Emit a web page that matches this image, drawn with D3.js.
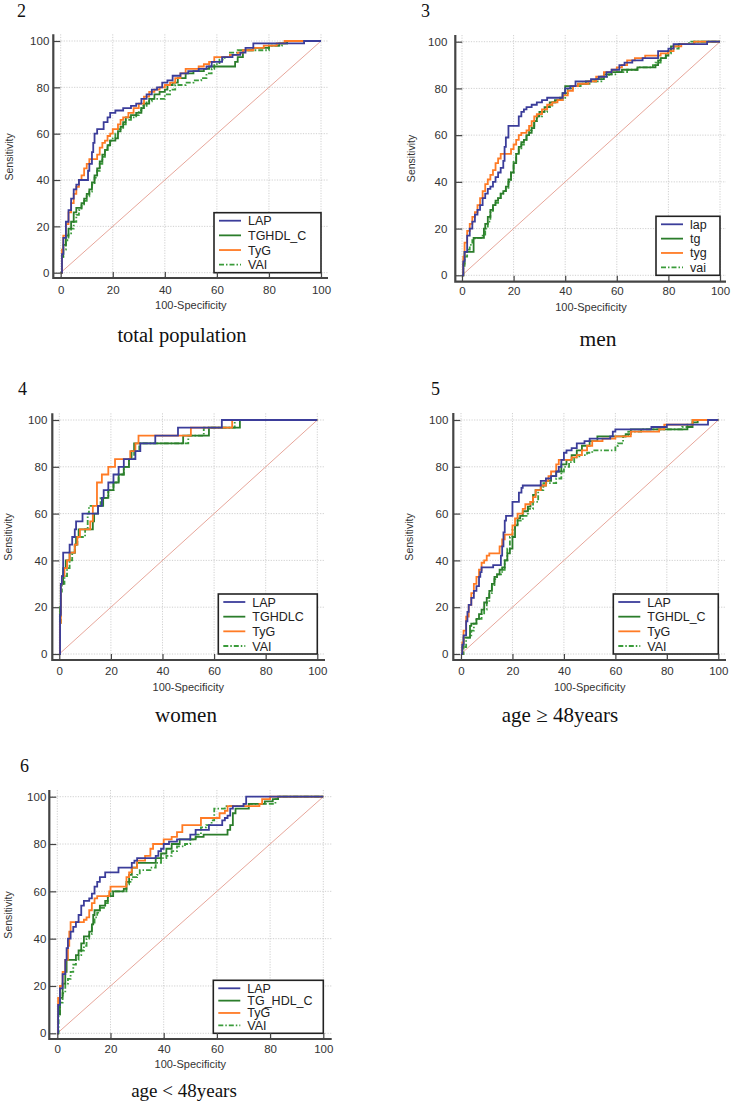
<!DOCTYPE html>
<html><head><meta charset="utf-8">
<script src="https://cdn.jsdelivr.net/npm/d3@7"></script>
<style>body{margin:0;background:#fff} svg{display:block}</style>
</head><body>
<svg id="c" width="733" height="1105"></svg>
<script>
// ---------- DATA (100-Specificity, Sensitivity) ----------
const panelNumbers = ["2","3","4","5","6"];
const panelTitles = ["total population","men","women","age \u2265 48years","age < 48years"];
const tickValues = [0,20,40,60,80,100];
const minorTickValues = d3.range(0,101,5);

const names1 = ["LAP","TGHDL_C","TyG","VAI"];
const names2 = ["lap","tg","tyg","vai"];
const names3 = ["LAP","TGHDLC","TyG","VAI"];
const names4 = ["LAP","TGHDL_C","TyG","VAI"];
const names5 = ["LAP","TG_HDL_C","TyG","VAI"];

// total population
const totLAP = [[0,0],[0.5,8],[1,15],[2,22],[3,27],[4,32],[5,36],[6,38],[7,40],[10,40],[10.5,44],[11,47],[12,52],[12.5,56],[13,60],[14,62],[16,62],[16.5,65],[18,67],[19,69],[21,70],[24,71],[27,72],[29,73],[31,75],[33,77],[35,79],[37,80],[39,82],[41,83],[43,85],[46,86],[49,87],[53,88],[56,89],[58,91],[62,93],[66,94],[69,95],[71,97],[74,99],[93,99],[93.5,100],[100,100]];
const totTGHDL = [[0,0],[0.5,7],[1,12],[2,16],[3,19],[4,22],[5,26],[6,28],[8,30],[9,32],[10,34],[11,36],[12,39],[13,42],[14,45],[15,48],[16,51],[17,53],[18,55],[19,57],[21,58],[22,61],[23,63],[24,65],[25,67],[27,68],[29,69],[31,71],[32,73],[34,75],[36,77],[38,78],[40,79],[41,81],[43,82],[45,84],[48,86],[51,87],[55,88],[57,89],[66,89],[67,91],[68,93],[70,96],[74,97],[80,98],[84,99],[87,100],[100,100]];
const totTyG = [[0,0],[0.5,10],[1,16],[2,21],[3,26],[4,30],[5,34],[6,37],[7,40],[8,42],[9,45],[10,47],[11,49],[13,49],[14,51],[15,54],[16,56],[17,57],[18,59],[19,60],[20,62],[22,64],[23,66],[24,67],[26,69],[28,71],[30,73],[32,76],[34,78],[36,79],[38,80],[40,81],[42,82],[44,84],[46,86],[48,88],[51,88],[53,89],[55,90],[57,91],[59,93],[63,93],[65,94],[68,95],[70,96],[74,97],[78,98],[83,99],[86,100],[100,100]];
const totVAI = [[0,0],[0.5,6],[1,10],[2,14],[3,17],[4,19],[5,22],[6,25],[7,27],[8,29],[9,31],[10,33],[11,35],[12,38],[13,41],[14,44],[15,47],[16,50],[17,53],[18,55],[19,57],[20,58],[21,60],[22,62],[24,64],[25,66],[27,67],[29,68],[30,70],[31,72],[33,74],[35,75],[38,75],[40,77],[42,79],[44,81],[48,82],[51,83],[54,84],[56,86],[58,88],[59,90],[61,92],[63,93],[65,95],[68,96],[78,96],[80,98],[85,99],[87,100],[100,100]];

// men
const menLAP = [[0,0],[0.5,6],[1,10],[2,17],[3,20],[4,23],[5,26],[6,28],[7,30],[8,33],[9,35],[10,37],[11,38],[12,40],[13,42],[14,44],[15,46],[16,49],[16.5,55],[17,59],[18,64],[21,64],[22,68],[23,70],[24,71],[25,72],[27,73],[29,74],[31,75],[33,76],[38,76],[39,78],[40,80],[42,81],[44,83],[48,83],[50,84],[53,85],[56,87],[58,88],[61,90],[63,91],[66,92],[70,93],[75,93],[76,96],[80,97],[82,99],[94,99],[95,100],[100,100]];
const menTG = [[0,0],[0.5,5],[1,10],[4,10],[4.5,16],[8,16],[8.5,20],[9,22],[10,25],[11,28],[12,30],[13,32],[14,33],[15,35],[16,36],[17,38],[18,41],[19,44],[20,48],[21,52],[22,55],[23,57],[24,58],[25,60],[26,61],[27,63],[28,66],[29,68],[30,70],[32,72],[34,74],[36,75],[38,76],[39,78],[40,81],[45,82],[48,83],[52,84],[55,86],[58,87],[62,88],[68,89],[75,90],[76,92],[77,93],[79,94],[80,96],[81,98],[84,99],[90,100],[100,100]];
const menTyG = [[0,0],[0.5,8],[1,14],[2,19],[3,22],[4,25],[5,27],[6,30],[7,33],[8,36],[9,39],[10,41],[11,43],[12,45],[13,48],[14,50],[15,52],[18,52],[19,54],[20,56],[21,58],[22,60],[23,61],[25,62],[26,64],[27,66],[28,68],[29,69],[31,71],[33,73],[35,74],[37,75],[39,77],[41,79],[43,81],[45,82],[49,83],[52,85],[55,87],[58,88],[60,89],[62,90],[64,92],[67,93],[71,94],[77,95],[80,96],[82,98],[85,99],[90,100],[100,100]];
const menVAI = [[0,0],[0.5,4],[1,8],[2,11],[3,13],[4,15],[5,16],[8,17],[9,20],[10,23],[11,27],[12,30],[13,31],[14,33],[15,35],[16,36],[17,37],[18,40],[19,44],[20,49],[21,52],[22,54],[23,56],[24,58],[25,60],[26,62],[27,64],[28,66],[29,68],[31,70],[33,72],[35,74],[37,75],[39,76],[40,78],[41,80],[43,81],[46,82],[50,83],[54,85],[57,86],[60,87],[64,88],[68,89],[74,90],[75,91],[77,93],[79,95],[81,97],[84,99],[88,100],[100,100]];

// women
const womLAP = [[0,0],[0.3,16.7],[0.6,30],[1,33.3],[1.5,43.3],[4,46.7],[5,50],[6,53.3],[6.5,56.7],[9,60],[15,63.3],[16.5,66.7],[17.2,70],[19,73.3],[21,76.7],[23,80],[25,83.3],[29.5,86.7],[31.4,90],[37.2,93.3],[46,96.7],[63,100],[100,100]];
const womTGHDLC = [[0,0],[0.3,20],[0.6,30],[1.5,36.7],[2.5,40],[4,43.3],[6,46.7],[6.5,50],[7.5,53.3],[13,56.7],[13.5,60],[15,63.3],[17,66.7],[19,70],[21,73.3],[23,76.7],[25,80],[27,83.3],[28,86.7],[29,90],[48,93.3],[58,96.7],[70,100],[100,100]];
const womTyG = [[0,0],[0.3,13.3],[0.6,30],[1,33.3],[2,36.7],[3,40],[4,43.3],[6,46.7],[7,50],[8,53.3],[12,56.7],[13,63.3],[14.6,73.3],[16.5,76.7],[19,80],[21.6,83.3],[27.5,86.7],[29.5,90],[30.7,93.3],[51,96.7],[67,100],[100,100]];
const womVAI = [[0,0],[0.3,13.3],[0.6,26.7],[1,30],[2,33.3],[3,36.7],[4,40],[5,43.3],[6,46.7],[7,50],[10,53.3],[11,60],[11.5,63.3],[16,66.7],[19,70],[21,73.3],[23,76.7],[25,80],[27,83.3],[29,86.7],[31,90],[50,93.3],[56,96.7],[68,100],[100,100]];

// age >= 48
const oldLAP = [[0,0],[0.5,4],[1,8],[2,14],[2.5,18],[3,21],[4,24],[5,27],[6,29],[7,33],[7.5,35],[8,37],[12,37],[12.5,38],[15,38],[15.5,42],[16,46],[16.5,52],[17,57],[17.5,59],[19.5,59],[20,65],[22,65],[22.5,69],[23.5,71],[24,72],[30,72],[31,74],[33,75],[35,76],[37,78],[38,80],[39,83],[40,86],[41,87],[43,88],[45,90],[48,91],[50,92],[58,93],[59,95],[60,96],[73,96],[74,97],[80,98],[95,98],[96,100],[100,100]];
const oldTGHDL = [[0,0],[0.5,3],[1,7],[3,7],[3.5,12],[4,13],[6,15],[7,17],[8,19],[9,22],[10,24],[11,27],[12,30],[13,33],[14,34],[15,36],[16,37],[17,40],[18,43],[19,45],[20,50],[21,55],[22,58],[23,59],[24,61],[26,63],[27,65],[28,68],[29,70],[31,72],[33,74],[35,76],[37,78],[39,81],[41,83],[43,85],[45,87],[47,89],[50,91],[53,93],[64,94],[66,96],[88,97],[90,99],[92,100],[100,100]];
const oldTyG = [[0,0],[0.5,5],[1,10],[2,16],[3,21],[4,26],[5,30],[6,33],[7,36],[8,39],[9,40],[10,42],[11,43],[14,43],[15,46],[16,49],[17,51],[19.5,51],[20,55],[21,58],[22,60],[24,62],[25,64],[27,65],[28,67],[29,70],[31,72],[33,74],[34,76],[35,78],[37,81],[38,83],[43,84],[45,85],[47,87],[49,89],[51,91],[55,92],[60,93],[66,95],[77,96],[79,98],[89,98],[90,100],[100,100]];
const oldVAI = [[0,0],[1,3],[2,7],[4,10],[5,13],[6,15],[8,17],[9,19],[10,22],[11,26],[12,29],[13,32],[14,34],[16,36],[17,40],[18,45],[19,50],[20,53],[21,55],[22,57],[24,59],[26,62],[28,65],[30,70],[32,73],[37,75],[39,78],[40,80],[42,82],[44,84],[46,85],[49,86],[51,87],[60,89],[61,90],[63,93],[65,95],[70,96],[86,97],[88,98],[90,100],[100,100]];

// age < 48
const yngLAP = [[0,0],[0.3,12],[1,19],[2,25],[3,31],[3.5,36],[4,40],[5,43],[6,45],[7,47],[8,50],[9,54],[10,56],[12,57],[13,59],[14,62],[15,64],[16,66],[18,68],[23,70],[28,72],[29,73],[30,74],[37,75],[38,77],[39,78],[40,80],[42,81],[45,82],[50,84],[52,86],[57,88],[62,90],[63,91],[64,92],[65,95],[66,96],[70,97],[71,100],[100,100]];
const yngTG = [[0,0],[0.3,8],[1,15],[2,21],[3,26],[3.5,31],[7,33],[8,35],[9,38],[10,41],[12,43],[13,46],[13.5,50],[14,52],[16,54],[18,56],[19,58],[21,60],[25,61],[26,64],[27,67],[28,70],[30,72],[37,74],[39,76],[41,78],[43,80],[46,82],[52,83],[55,84],[64,86],[65,88],[66,93],[67,95],[72,97],[78,98],[81,99],[83,100],[100,100]];
const yngTyG = [[0,0],[0.3,15],[1,20],[2,26],[3,31],[4,37],[4.5,43],[5,47],[10,48],[11,49],[12,52],[13,55],[14,57],[15,58],[19.5,60],[20,62],[26,66],[27,68],[28,70],[30,73],[33,75],[35,78],[36,80],[40,82],[43,83],[45,85],[47,88],[54,91],[61,93],[63,94],[64,96],[76,97],[77,99],[80,100],[100,100]];
const yngVAI = [[0,0],[0.5,8],[1,13],[2,17],[3,21],[4,23],[5,26],[6,29],[7,31],[8,33],[9,35],[10,37],[11,40],[12,42],[13,46],[14,49],[15,51],[16,53],[18,55],[19,58],[20,60],[26,63],[27,64],[28,66],[30,67],[31,69],[35,70],[37,72],[39,74],[41,75],[43,77],[45,79],[48,80],[50,82],[52,84],[54,87],[56,88],[58,90],[59,95],[63,96],[70,97],[82,99],[83,100],[100,100]];

// ---------- STYLES / LAYOUT ----------
const seriesColors = ["#3b3d9a","#2b7d2b","#ff7b25","#3a9b3a"];
const seriesDash = [null,null,null,"5,2,1.5,2"];

const panels = [
 {num:panelNumbers[0], title:panelTitles[0], names:names1, series:[totLAP,totTGHDL,totTyG,totVAI],
  numX:17, numY:17, tX:182, tY:342, tS:20.5,
  x0:60.7, x1:321, y0:272.7, y1:41, axL:53.3, axB:278, top:34.3, right:328,
  yPad:4, xLab:293.5, xTitle:309, sensX:9, legW:107, legH:60},
 {num:panelNumbers[1], title:panelTitles[1], names:names2, series:[menLAP,menTG,menTyG,menVAI],
  numX:421, numY:17, tX:598, tY:346, tS:21.5,
  x0:462, x1:720, y0:275.3, y1:41.7, axL:455.3, axB:281.7, top:35, right:726,
  yPad:8, xLab:295, xTitle:311, sensX:411, legW:64, legH:59},
 {num:panelNumbers[2], title:panelTitles[2], names:names3, series:[womLAP,womTGHDLC,womTyG,womVAI],
  numX:18, numY:395, tX:186, tY:722, tS:21,
  x0:59.3, x1:317.3, y0:654, y1:420, axL:52.3, axB:660, top:413.3, right:325,
  yPad:5, xLab:675, xTitle:691, sensX:8, legW:99, legH:60},
 {num:panelNumbers[3], title:panelTitles[3], names:names4, series:[oldLAP,oldTGHDL,oldTyG,oldVAI],
  numX:431, numY:395, tX:560, tY:722, tS:21,
  x0:461, x1:718.3, y0:654, y1:420, axL:453.3, axB:660, top:413, right:726,
  yPad:5, xLab:675, xTitle:691, sensX:409, legW:105, legH:60},
 {num:panelNumbers[4], title:panelTitles[4], names:names5, series:[yngLAP,yngTG,yngTyG,yngVAI],
  numX:20, numY:772, tX:184, tY:1097, tS:19,
  x0:57.3, x1:323.3, y0:1033.3, y1:796.7, axL:49.3, axB:1039, top:790, right:331.7,
  yPad:3, xLab:1053, xTitle:1068, sensX:8, legW:110, legH:53}
];

const svg = d3.select("#c");
const sans = "'Liberation Sans', Arial, sans-serif";
const serif = "'Liberation Serif', 'Times New Roman', serif";

panels.forEach(p => {
  const g = svg.append("g");
  const x = d3.scaleLinear().domain([0,100]).range([p.x0,p.x1]);
  const y = d3.scaleLinear().domain([0,100]).range([p.y0,p.y1]);

  // grid
  const grid = g.append("g").attr("stroke","#c4c4c4").attr("stroke-width",0.8).attr("stroke-dasharray","1.2,1.4");
  tickValues.forEach(v => {
    grid.append("line").attr("x1",p.axL).attr("x2",p.right).attr("y1",y(v)).attr("y2",y(v));
    grid.append("line").attr("x1",x(v)).attr("x2",x(v)).attr("y1",p.top).attr("y2",p.axB);
  });

  // diagonal reference
  g.append("line").attr("x1",x(0)).attr("y1",y(0)).attr("x2",x(100)).attr("y2",y(100))
    .attr("stroke","#e49c8e").attr("stroke-width",0.9);

  // curves
  const line = d3.line().x(d=>x(d[0])).y(d=>y(d[1])).curve(d3.curveStepAfter);
  [3,1,2,0].forEach(i => {
    g.append("path").attr("d",line(p.series[i])).attr("fill","none")
      .attr("stroke",seriesColors[i]).attr("stroke-width",1.8)
      .attr("stroke-dasharray",seriesDash[i]);
  });

  // legend
  const lx = x(100)-p.legW, ly = y(0)-p.legH;
  const leg = g.append("g");
  leg.append("rect").attr("x",lx).attr("y",ly).attr("width",p.legW).attr("height",p.legH)
    .attr("fill","#fff").attr("stroke","#222").attr("stroke-width",1.6);
  const step = (p.legH-16)/3;
  p.names.forEach((n,i) => {
    const yy = ly + 8 + i*step;
    leg.append("line").attr("x1",lx+5).attr("x2",lx+27).attr("y1",yy).attr("y2",yy)
      .attr("stroke",seriesColors[i]).attr("stroke-width",1.8).attr("stroke-dasharray",seriesDash[i]);
    leg.append("text").attr("x",lx+34).attr("y",yy).attr("dy","0.36em")
      .attr("font-family",sans).attr("font-size",12.5).attr("fill","#222").text(n);
  });

  // axes
  const yAxis = d3.axisLeft(y).tickValues(tickValues).tickSize(-7).tickPadding(p.yPad);
  const yMinor = d3.axisLeft(y).tickValues(minorTickValues).tickSize(-3.5).tickFormat("");
  const xAxis = d3.axisBottom(x).tickValues(tickValues).tickSize(-6).tickPadding(0);
  const xMinor = d3.axisBottom(x).tickValues(minorTickValues).tickSize(-3).tickFormat("");

  const ya = g.append("g").attr("transform",`translate(${p.axL},0)`);
  ya.call(yMinor); ya.call(yAxis);
  const xa = g.append("g").attr("transform",`translate(0,${p.axB})`);
  xa.call(xMinor); xa.call(xAxis);
  [ya,xa].forEach(a => {
    a.selectAll(".domain").remove();
    a.selectAll("line").attr("stroke","#444").attr("stroke-width",1.2);
    a.selectAll("text").attr("font-family",sans).attr("font-size",11.5).attr("fill","#333");
  });
  xa.selectAll("text").attr("y",p.xLab-p.axB).attr("dy",null);

  g.append("path").attr("d",`M${p.axL},${p.top}V${p.axB}H${p.right}`)
    .attr("fill","none").attr("stroke","#444").attr("stroke-width",2.2);

  // axis titles
  g.append("text").attr("x",(p.x0+p.x1)/2).attr("y",p.xTitle).attr("text-anchor","middle")
    .attr("font-family",sans).attr("font-size",11).attr("fill","#333").text("100-Specificity");
  const cy = (p.y0+p.y1)/2;
  g.append("text").attr("transform",`translate(${p.sensX},${cy}) rotate(-90)`)
    .attr("text-anchor","middle").attr("dy","0.35em")
    .attr("font-family",sans).attr("font-size",10.5).attr("fill","#333").text("Sensitivity");

  // panel number and title
  g.append("text").attr("x",p.numX).attr("y",p.numY).attr("font-family",serif)
    .attr("font-size",18).attr("fill","#111").text(p.num);
  g.append("text").attr("x",p.tX).attr("y",p.tY).attr("text-anchor","middle").attr("font-family",serif)
    .attr("font-size",p.tS).attr("fill","#111").text(p.title);
});
</script>
</body></html>
